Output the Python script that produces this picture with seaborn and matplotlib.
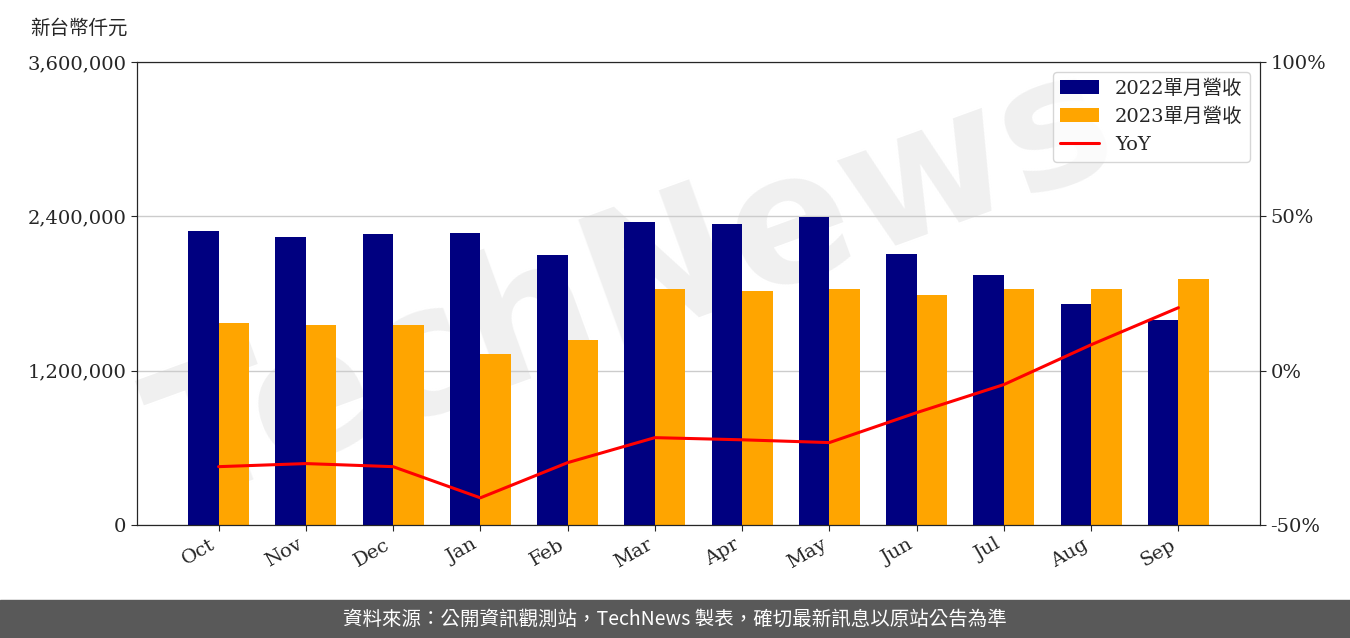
import numpy as np
import pandas as pd
import matplotlib
matplotlib.use('Agg')
import matplotlib.pyplot as plt
import seaborn as sns
from matplotlib.ticker import FuncFormatter

months = ['Oct', 'Nov', 'Dec', 'Jan', 'Feb', 'Mar', 'Apr', 'May', 'Jun', 'Jul', 'Aug', 'Sep']
rev_2022 = [2286000, 2239000, 2263000, 2270000, 2099000, 2356000, 2340000, 2395000, 2107000, 1944000, 1718000, 1594000]
rev_2023 = [1571000, 1555000, 1555000, 1330000, 1438000, 1835000, 1819000, 1835000, 1788000, 1835000, 1835000, 1913000]
yoy = [-31.1, -30.1, -31.1, -41.2, -29.8, -21.7, -22.4, -23.3, -13.6, -4.5, 8.4, 20.4]

sns.set_style('white')
plt.rcParams['font.family'] = ['DejaVu Serif', 'Noto Sans CJK TC']

df = pd.DataFrame({'month': months * 2,
                   'rev': rev_2022 + rev_2023,
                   'series': ['2022單月營收'] * 12 + ['2023單月營收'] * 12})

fig = plt.figure(figsize=(13.5, 6.38), dpi=100)
ax = fig.add_axes([137 / 1350, 1 - 525 / 638, (1260 - 137) / 1350, (525 - 62) / 638])
ax.set_facecolor('none')
sns.barplot(data=df, x='month', y='rev', hue='series', ax=ax,
            palette=['#000080', '#FFA500'], width=0.7, saturation=1, linewidth=0)
ax.set_ylim(0, 3600000)
ax.set_yticks([0, 1200000, 2400000, 3600000])
ax.yaxis.set_major_formatter(FuncFormatter(lambda v, p: f'{int(v):,}'))
ax.grid(axis='y', color='#cccccc', lw=1)
ax.set_axisbelow(True)
ax.set_xlabel('')
ax.set_ylabel('')
ax.tick_params(axis='both', labelsize=14, length=4, left=True, bottom=True)
plt.setp(ax.get_xticklabels(), rotation=30, ha='right')
for s in ax.spines.values():
    s.set_color('black')

ax2 = ax.twinx()
ax2.set_facecolor('none')
sns.lineplot(x=np.arange(12), y=yoy, ax=ax2, color='red', lw=2.2, label='YoY')
ax2.set_ylim(-50, 100)
ax2.set_yticks([-50, 0, 50, 100])
ax2.yaxis.set_major_formatter(FuncFormatter(lambda v, p: f'{int(v)}%'))
ax2.tick_params(axis='y', labelsize=14, length=4, right=True)
ax2.get_legend().remove()

h1, l1 = ax.get_legend_handles_labels()
h2, l2 = ax2.get_legend_handles_labels()
ax.get_legend().remove()
ax2.legend(h1 + h2, l1 + l2, loc='upper right', fontsize=14, frameon=True)

fig.text(30 / 1350, 1 - 28 / 638, '新台幣仟元', fontsize=14, va='center',
         family=['Noto Sans CJK TC'])
fig.text(0.47, 0.55, 'TechNews', fontsize=130, color='#e6e6e6', alpha=0.6,
         rotation=20, ha='center', va='center', fontweight='bold',
         family='DejaVu Sans', zorder=-1)

fig.patches.append(plt.Rectangle((0, 0), 1, 38 / 638, transform=fig.transFigure,
                                 color='#595959', zorder=0))
fig.text(0.5, 19 / 638, '資料來源：公開資訊觀測站，TechNews 製表，確切最新訊息以原站公告為準',
         color='white', fontsize=14, ha='center', va='center',
         family=['Noto Sans CJK TC', 'DejaVu Sans'])

fig.savefig('out.png', dpi=100)
